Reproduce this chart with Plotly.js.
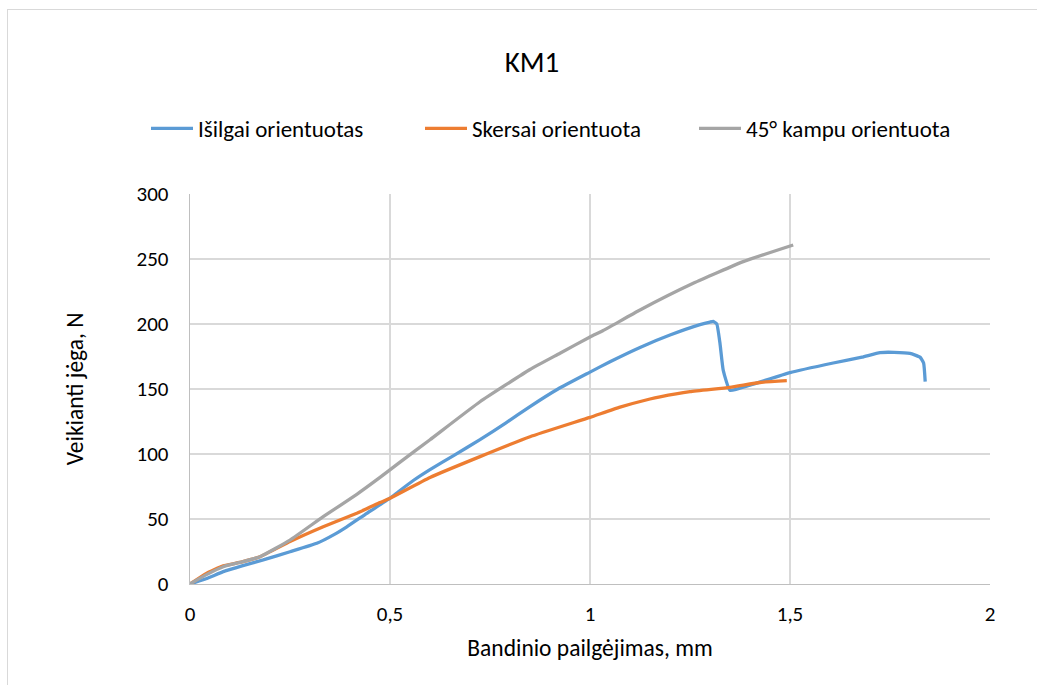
<!DOCTYPE html>
<html>
<head>
<meta charset="utf-8">
<script src="https://cdn.plot.ly/plotly-3.0.1.min.js"></script>
<style>
html,body{margin:0;padding:0;background:#fff;}
#frame{position:absolute;left:7px;top:9px;width:1030px;height:676px;border-left:1px solid #d9d9d9;border-top:1px solid #d9d9d9;pointer-events:none;}
#chart{width:1037px;height:685px;}
</style>
</head>
<body>
<div id="chart"></div>
<div id="frame"></div>
<script>
const seriesNames = ["Išilgai orientuotas", "Skersai orientuota", "45° kampu orientuota"];
const colors = ["#5B9BD5", "#ED7D31", "#A5A5A5"];

const blueX = [0, 0.04, 0.083, 0.13, 0.183, 0.25, 0.317, 0.36, 0.392, 0.442, 0.5, 0.521, 0.56, 0.6, 0.66, 0.725, 0.79, 0.85, 0.92, 1.0, 1.05, 1.125, 1.2, 1.275, 1.3, 1.308, 1.317, 1.325, 1.333, 1.35, 1.4, 1.5, 1.608, 1.68, 1.725, 1.76, 1.8, 1.825, 1.834, 1.838];
const blueY = [0, 4, 9.5, 14, 18.5, 24.8, 31.3, 38, 44, 54.4, 66, 71, 80, 88, 99, 111, 124, 136.5, 150, 163, 171, 182, 191.5, 199.5, 201.5, 202, 200, 185, 164.6, 149, 153, 162.6, 170, 174.5, 178, 178.2, 177.4, 174.5, 170, 155.6];

const orangeX = [0, 0.04, 0.083, 0.13, 0.175, 0.25, 0.333, 0.417, 0.475, 0.5, 0.6, 0.725, 0.85, 1.0, 1.075, 1.15, 1.175, 1.25, 1.35, 1.425, 1.492];
const orangeY = [0, 8, 14, 17, 21, 32.6, 44, 54.4, 62.6, 66, 82, 98, 113.3, 128.2, 136, 142.3, 144, 148, 151.3, 155, 156.4];

const grayX = [0, 0.04, 0.083, 0.13, 0.175, 0.25, 0.333, 0.417, 0.475, 0.521, 0.6, 0.725, 0.85, 0.925, 1.0, 1.033, 1.125, 1.258, 1.383, 1.508];
const grayY = [0, 7, 13.3, 17, 21, 33.8, 51.8, 69, 82, 92.8, 111, 140.2, 165, 177.5, 190, 195, 210.8, 231.3, 248, 260.8];

const xTicks = [0, 0.5, 1, 1.5, 2];
const xTickLabels = ["0", "0,5", "1", "1,5", "2"];
const yTicks = [0, 50, 100, 150, 200, 250, 300];

const font = "Carlito, Calibri, Lato, sans-serif";

const xs = [blueX, orangeX, grayX];
const ys = [blueY, orangeY, grayY];
const traces = seriesNames.map((n, i) => ({
  x: xs[i], y: ys[i], name: n, type: "scatter", mode: "lines",
  line: {color: colors[i], width: 3.3, shape: "spline", smoothing: 0.4}
}));

const layout = {
  width: 1037, height: 685,
  margin: {l: 190, r: 47, t: 194, b: 101},
  paper_bgcolor: "#fff", plot_bgcolor: "#fff",
  font: {family: font, size: 21, color: "#000"},
  title: {text: "KM1", font: {family: font, size: 29, color: "#000"}, x: 0.513, xanchor: "center", y: 0.91, yanchor: "middle"},
  showlegend: true,
  legend: {orientation: "h", x: -0.055, xanchor: "left", y: 1.168, yanchor: "middle",
           font: {family: font, size: 23, color: "#000"}, itemwidth: 42, entrywidth: 217, traceorder: "normal"},
  xaxis: {range: [0, 2], tickvals: xTicks, ticktext: xTickLabels, showgrid: true, gridcolor: "#d9d9d9", gridwidth: 1.3,
          zeroline: false, showline: true, linecolor: "#bfbfbf", linewidth: 1.3, ticks: "", ticklen: 0,
          ticklabelstandoff: 10,
          tickfont: {family: font, size: 21, color: "#000"},
          title: {text: "Bandinio pailgėjimas, mm", font: {family: font, size: 23.5, color: "#000"}, standoff: 14}},
  yaxis: {range: [0, 300], tickvals: yTicks, showgrid: true, gridcolor: "#d9d9d9", gridwidth: 1.3,
          zeroline: false, showline: true, linecolor: "#bfbfbf", linewidth: 1.3, ticks: "", ticklen: 0,
          ticklabelstandoff: 16,
          tickfont: {family: font, size: 21, color: "#000"},
          title: {text: "Veikianti jėga, N", font: {family: font, size: 23.5, color: "#000"}, standoff: 46}}
};

Plotly.newPlot("chart", traces, layout, {displayModeBar: false, staticPlot: true});
</script>
</body>
</html>
